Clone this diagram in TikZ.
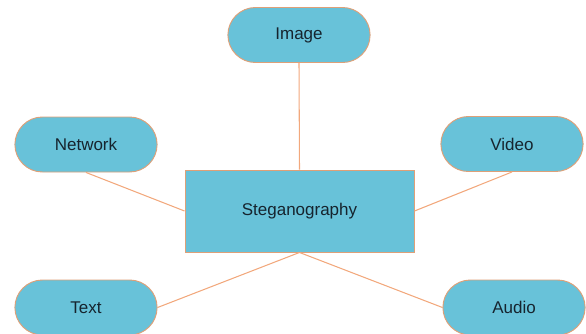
\documentclass[tikz,border=0pt]{standalone}
\usepackage{fontspec}
\setmainfont{Liberation Sans}
\usepackage{tikz}
\usetikzlibrary{shapes.misc}
\definecolor{boxblue}{RGB}{104,194,217}
\definecolor{edgeorange}{RGB}{222,160,120}
\definecolor{linkorange}{RGB}{242,168,124}
\definecolor{labeldark}{RGB}{22,36,46}
\tikzset{%
	every topic/.style={
		rounded rectangle,
		draw=edgeorange,
		line width=0.8pt,
		fill=boxblue,
		minimum width=4.5cm,
		minimum height=1.65cm,
		text=labeldark,
		font=\fontsize{14.5}{17}\selectfont
	},
	main box/.style={
		rectangle,
		draw=edgeorange,
		line width=0.8pt,
		fill=boxblue,
		minimum width=6.87cm,
		minimum height=2.46cm,
		text=labeldark,
		font=\fontsize{14.5}{17}\selectfont
	},
	link/.style={
		draw=linkorange,
		line width=0.9pt
	},
}

\begin{document}
\begin{tikzpicture}[x=0.03cm,y=-0.03cm]
			\useasboundingbox (0,0) rectangle (586,333);
			
			% Draw the centre rectangle
			\node[main box] (steg) at (299.5,211) {Steganography};
			
			% Draw the topics round it
			\node[every topic] (image) at (299,35) {Image};
			\node[every topic] (network) at (86,144.5) {Network};
			\node[every topic] (video) at (512,144) {Video};
			\node[every topic] (text) at (86,307.5) {Text};
			\node[every topic] (audio) at (514,307.5) {Audio};
			
			% Draw the links
			\draw[link] (image.south) -- (steg.north);
			\draw[link] (network.south) -- (steg.west);
			\draw[link] (video.south) -- (steg.east);
			\draw[link] (text.east) -- (steg.south);
			\draw[link] (steg.south) -- (audio.west);

		\end{tikzpicture}
\end{document}
